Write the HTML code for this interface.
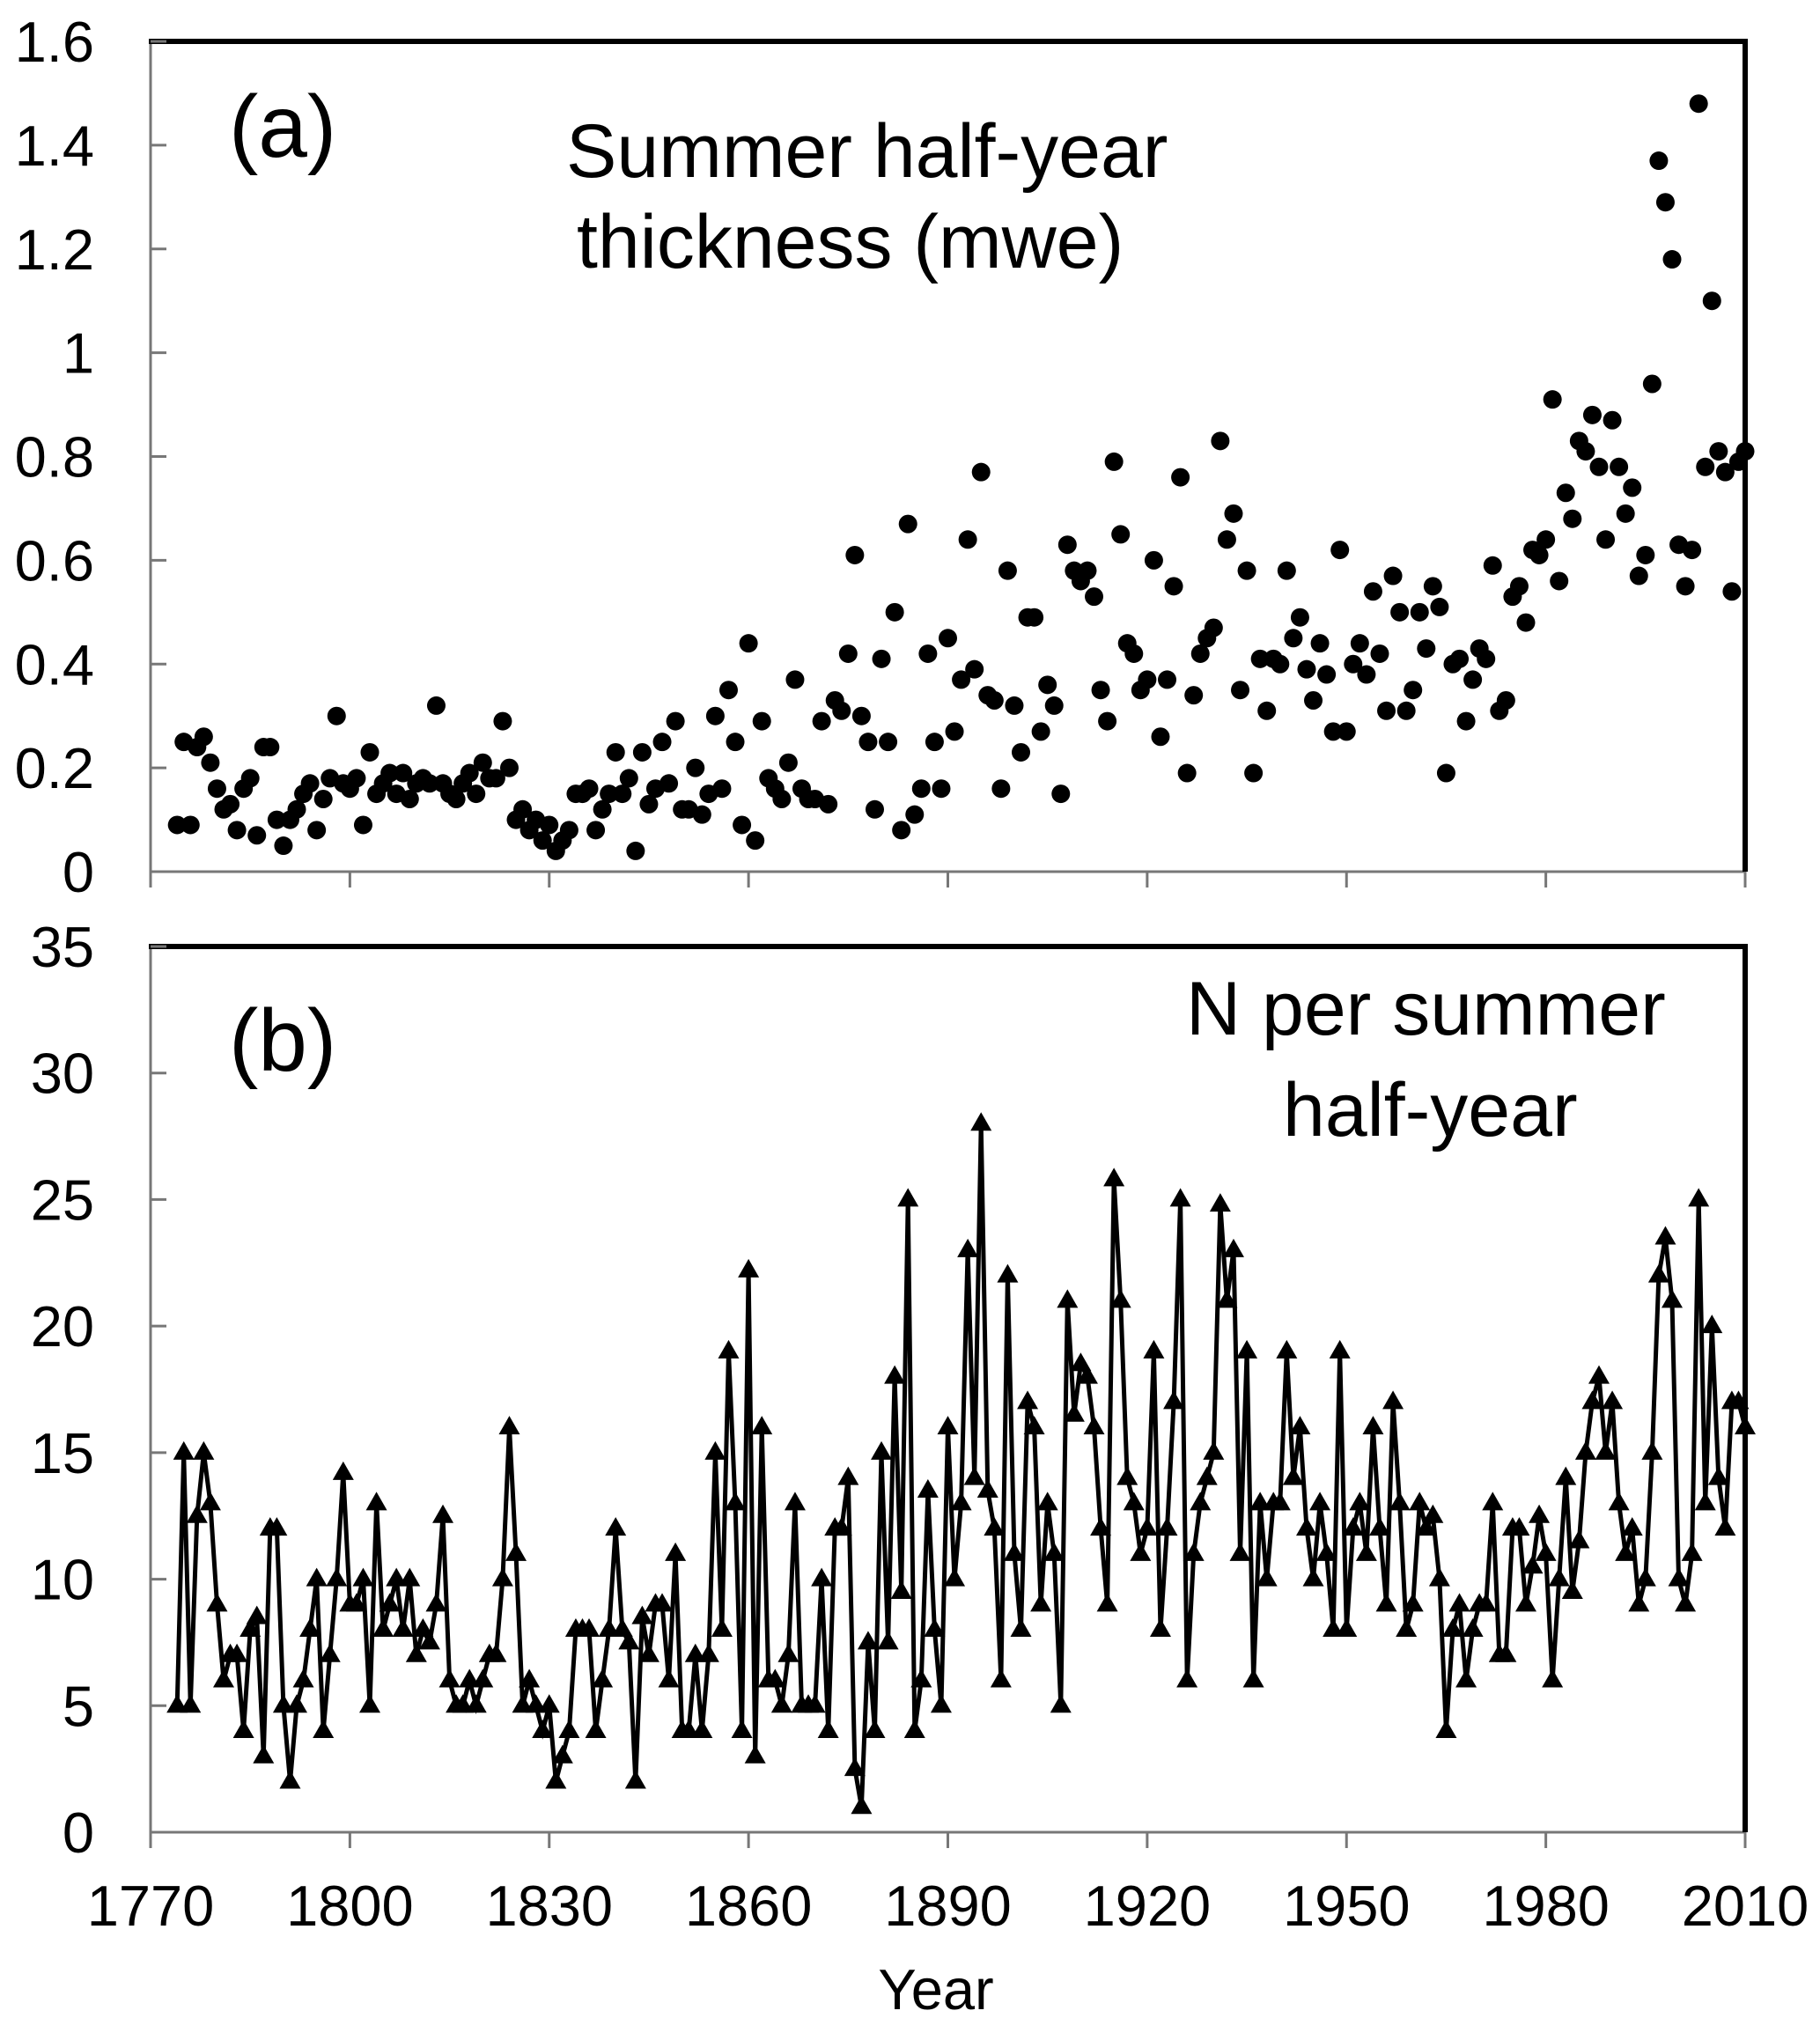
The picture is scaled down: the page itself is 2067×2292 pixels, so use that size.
<!DOCTYPE html>
<html><head><meta charset="utf-8"><style>
html,body{margin:0;padding:0;background:#fff}
svg{display:block;font-family:"Liberation Sans",Arial,sans-serif}
</style></head><body>
<svg id="chart" width="2067" height="2292" viewBox="0 0 2067 2292" xmlns="http://www.w3.org/2000/svg"></svg>
<script>
const years=[];for(let y=1774;y<=2010;y++)years.push(y);
const thickness=[0.09,0.25,0.09,0.24,0.26,0.21,0.16,0.12,0.13,0.08,0.16,0.18,0.07,0.24,0.24,0.10,0.05,0.10,0.12,0.15,0.17,0.08,0.14,0.18,0.30,0.17,0.16,0.18,0.09,0.23,0.15,0.17,0.19,0.15,0.19,0.14,0.17,0.18,0.17,0.32,0.17,0.15,0.14,0.17,0.19,0.15,0.21,0.18,0.18,0.29,0.20,0.10,0.12,0.08,0.10,0.06,0.09,0.04,0.06,0.08,0.15,0.15,0.16,0.08,0.12,0.15,0.23,0.15,0.18,0.04,0.23,0.13,0.16,0.25,0.17,0.29,0.12,0.12,0.20,0.11,0.15,0.30,0.16,0.35,0.25,0.09,0.44,0.06,0.29,0.18,0.16,0.14,0.21,0.37,0.16,0.14,0.14,0.29,0.13,0.33,0.31,0.42,0.61,0.30,0.25,0.12,0.41,0.25,0.50,0.08,0.67,0.11,0.16,0.42,0.25,0.16,0.45,0.27,0.37,0.64,0.39,0.77,0.34,0.33,0.16,0.58,0.32,0.23,0.49,0.49,0.27,0.36,0.32,0.15,0.63,0.58,0.56,0.58,0.53,0.35,0.29,0.79,0.65,0.44,0.42,0.35,0.37,0.60,0.26,0.37,0.55,0.76,0.19,0.34,0.42,0.45,0.47,0.83,0.64,0.69,0.35,0.58,0.19,0.41,0.31,0.41,0.40,0.58,0.45,0.49,0.39,0.33,0.44,0.38,0.27,0.62,0.27,0.40,0.44,0.38,0.54,0.42,0.31,0.57,0.50,0.31,0.35,0.50,0.43,0.55,0.51,0.19,0.40,0.41,0.29,0.37,0.43,0.41,0.59,0.31,0.33,0.53,0.55,0.48,0.62,0.61,0.64,0.91,0.56,0.73,0.68,0.83,0.81,0.88,0.78,0.64,0.87,0.78,0.69,0.74,0.57,0.61,0.94,1.37,1.29,1.18,0.63,0.55,0.62,1.48,0.78,1.10,0.81,0.77,0.54,0.79,0.81,0.61];
const counts=[5,15,5,12.5,15,13,9,6,7,7,4,8,8.5,3,12,12,5,2,5,6,8,10,4,7,10,14.2,9,9,10,5,13,8,9,10,8,10,7,8,7.5,9,12.5,6,5,5,6,5,6,7,7,10,16,11,5,6,5,4,5,2,3,4,8,8,8,4,6,8,12,8,7.5,2,8.5,7,9,9,6,11,4,4,7,4,7,15,8,19,13,4,22.2,3,16,6,6,5,7,13,5,5,5,10,4,12,12,14,2.5,1,7.5,4,15,7.5,18,9.5,25,4,6,13.5,8,5,16,10,13,23,14,28,13.5,12,6,22,11,8,17,16,9,13,11,5,21,16.5,18.5,18,16,12,9,25.8,21,14,13,11,12,19,8,12,17,25,6,11,13,14,15,24.8,21,23,11,19,6,13,10,13,13,19,14,16,12,10,13,11,8,19,8,12,13,11,16,12,9,17,13,8,9,13,12,12.5,10,4,8,9,6,8,9,9,13,7,7,12,12,9,10.5,12.5,11,6,10,14,9.5,11.5,15,17,18,15,17,13,11,12,9,10,15,22,23.5,21,10,9,11,25,13,20,14,12,17,17,16];
const yTicksA=["0","0.2","0.4","0.6","0.8","1","1.2","1.4","1.6"];
const yTickValsA=[0,0.2,0.4,0.6,0.8,1,1.2,1.4,1.6];
const yTickValsB=[0,5,10,15,20,25,30,35];
const xTickVals=[1770,1800,1830,1860,1890,1920,1950,1980,2010];

const NS="http://www.w3.org/2000/svg";
const svg=document.getElementById('chart');
function el(tag,attrs,parent){const e=document.createElementNS(NS,tag);for(const k in attrs)e.setAttribute(k,attrs[k]);(parent||svg).appendChild(e);return e;}
const L=171,R=1982;
const xs=y=>L+(y-1770)/240*(R-L);
const A={top:47,bot:990,max:1.6};
const B={top:1075,bot:2081,max:35};
const ya=v=>A.bot-v/A.max*(A.bot-A.top);
const yb=v=>B.bot-v/B.max*(B.bot-B.top);

function frame(P,name,vals,fmt,ys){
  const g=el('g',{});
  
  
  el('line',{x1:L,y1:P.top,x2:L,y2:P.bot,stroke:'#777','stroke-width':3},g);
  el('line',{x1:L,y1:P.bot,x2:R,y2:P.bot,stroke:'#777','stroke-width':3},g);
  el('line',{x1:L-2,y1:P.top,x2:R+3,y2:P.top,stroke:'#000','stroke-width':6},g);
  el('line',{x1:R,y1:P.top,x2:R,y2:P.bot,stroke:'#000','stroke-width':6},g);
  vals.forEach((v,i)=>{
    const y=ys(v);
    el('line',{x1:L,y1:y,x2:L+18,y2:y,stroke:'#777','stroke-width':3},g);
    const t=el('text',{x:107,y:y+23,'text-anchor':'end','font-size':65},g);
    t.textContent=fmt[i];
    
    
  });
  xTickVals.forEach(v=>{el('line',{x1:xs(v),y1:P.bot,x2:xs(v),y2:P.bot+18,stroke:'#777','stroke-width':3},g);});
}
frame(A,'panel-a',yTickValsA,yTicksA,ya);
frame(B,'panel-b',yTickValsB,yTickValsB.map(String),yb);

const ga=el('g',{});


years.forEach((yr,i)=>{
  const c=el('circle',{cx:xs(yr),cy:ya(thickness[i]),r:10.5,fill:'#000'},ga);
  
  
});

const gb=el('g',{});


const pts=years.map((yr,i)=>xs(yr).toFixed(1)+','+yb(counts[i]).toFixed(1)).join(' ');
const pl=el('polyline',{points:pts,fill:'none',stroke:'#000','stroke-width':5,'stroke-linejoin':'miter'},gb);


years.forEach((yr,i)=>{
  const x=xs(yr),y=yb(counts[i]);
  const p=el('polygon',{points:`${x-12},${y+8} ${x+12},${y+8} ${x},${y-13}`,fill:'#000'},gb);
  
  
});

xTickVals.forEach(v=>{
  const t=el('text',{x:xs(v),y:2187,'text-anchor':'middle','font-size':65});
  t.textContent=String(v);
  
  
});
function txt(s,x,y,fs,name,anchor){
  const t=el('text',{x:x,y:y,'font-size':fs,'text-anchor':anchor||'start'});
  t.textContent=s;
  
  
}
txt('Year',1063,2282,65,'x-axis-title','middle');
txt('(a)',260,178,100,'panel-a-label');
txt('Summer half-year',643,201,86,'panel-a-title-line1');
txt('thickness (mwe)',655,304,86,'panel-a-title-line2');
txt('(b)',260,1216,100,'panel-b-label');
txt('N per summer',1347,1175,86,'panel-b-title-line1');
txt('half-year',1457,1290,86,'panel-b-title-line2');
</script>
</body></html>
